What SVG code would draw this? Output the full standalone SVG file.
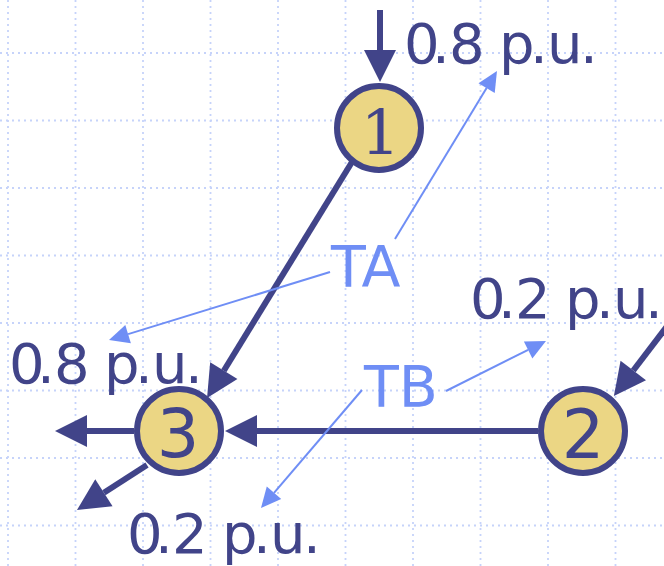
<svg xmlns="http://www.w3.org/2000/svg" width="664" height="566" viewBox="0 0 664 566">
<style>
.grid line{stroke:#c6d3fa;stroke-width:1.8;stroke-dasharray:2 4}
.node circle{fill:#ebd684;stroke:#414489;stroke-width:6}
.dark{stroke:#414489;stroke-width:6;fill:none}
.light{stroke:#6f8ef5;stroke-width:2;fill:none}
.lbl{font-family:"DejaVu Sans",Verdana,sans-serif;font-size:56px;fill:#414489}
.tl{font-family:"DejaVu Sans",Verdana,sans-serif;font-size:57px;fill:#6f8ef5}
.num{font-family:"DejaVu Sans",sans-serif;font-size:67px;fill:#414489;text-anchor:middle}
.numS{font-family:"DejaVu Serif","Liberation Serif",serif;font-size:62px;fill:#414489;text-anchor:middle}
</style>
<defs>
<marker id="hd" markerUnits="userSpaceOnUse" markerWidth="32" markerHeight="32" viewBox="0 -16 32 32" refX="0" refY="0" orient="auto" overflow="visible"><path d="M0,-16 L32,0 L0,16 z" fill="#414489"/></marker>
<marker id="hl" markerUnits="userSpaceOnUse" markerWidth="20" markerHeight="19" viewBox="0 -9.5 20 19" refX="0" refY="0" orient="auto" overflow="visible"><path d="M0,-9.5 L20,0 L0,9.5 z" fill="#6f8ef5"/></marker>
</defs>
<rect width="664" height="566" fill="#ffffff"/>
<g class="grid">
<line x1="8" y1="0" x2="8" y2="566"/>
<line x1="75.5" y1="0" x2="75.5" y2="566"/>
<line x1="143" y1="0" x2="143" y2="566"/>
<line x1="210.5" y1="0" x2="210.5" y2="566"/>
<line x1="278" y1="0" x2="278" y2="566"/>
<line x1="345.5" y1="0" x2="345.5" y2="566"/>
<line x1="413" y1="0" x2="413" y2="566"/>
<line x1="480.5" y1="0" x2="480.5" y2="566"/>
<line x1="548" y1="0" x2="548" y2="566"/>
<line x1="615.5" y1="0" x2="615.5" y2="566"/>
<line x1="0" y1="53" x2="664" y2="53"/>
<line x1="0" y1="120.5" x2="664" y2="120.5"/>
<line x1="0" y1="188" x2="664" y2="188"/>
<line x1="0" y1="255.5" x2="664" y2="255.5"/>
<line x1="0" y1="323" x2="664" y2="323"/>
<line x1="0" y1="390.5" x2="664" y2="390.5"/>
<line x1="0" y1="458" x2="664" y2="458"/>
<line x1="0" y1="525.5" x2="664" y2="525.5"/>
</g>
<g id="connectors">
<line class="dark" x1="380" y1="10" x2="380" y2="50" marker-end="url(#hd)"/>
<line class="dark" x1="352" y1="162" x2="223.8" y2="370.7" marker-end="url(#hd)"/>
<line class="dark" x1="538" y1="431" x2="257" y2="431" marker-end="url(#hd)"/>
<line class="dark" x1="134" y1="431" x2="87" y2="431" marker-end="url(#hd)"/>
<line class="dark" x1="147" y1="465" x2="103.9" y2="492.7" marker-end="url(#hd)"/>
<line class="dark" x1="668" y1="325" x2="633.3" y2="370.5" marker-end="url(#hd)"/>
<line class="light" x1="395" y1="239" x2="486.6" y2="88.1" marker-end="url(#hl)"/>
<line class="light" x1="330" y1="272" x2="128.1" y2="334.1" marker-end="url(#hl)"/>
<line class="light" x1="446" y1="391" x2="528.1" y2="349.9" marker-end="url(#hl)"/>
<line class="light" x1="362" y1="390" x2="274" y2="492.8" marker-end="url(#hl)"/>
</g>
<g id="node1" class="node"><circle cx="379" cy="128" r="42"/><text class="numS" x="380.5" y="154">1</text></g>
<g id="node2" class="node"><circle cx="583" cy="431" r="42"/><text class="num" x="583" y="458">2</text></g>
<g id="node3" class="node"><circle cx="179" cy="431" r="42"/><text class="num" x="178" y="457">3</text></g>
<g id="labels">
<text class="lbl" x="404 432 449 485 499 530 547 580" y="63">0.8 p.u.</text>
<text class="lbl" x="470 498 515 551 565 596 613 645" y="318">0.2 p.u.</text>
<text class="lbl" x="9 37 54 90 104 135 152 185" y="383">0.8 p.u.</text>
<text class="lbl" x="127 155 172 208 222 253 270 303" y="553">0.2 p.u.</text>
<text class="tl" x="331" y="287">TA</text>
<text class="tl" x="364" y="407">TB</text>
</g>
</svg>
